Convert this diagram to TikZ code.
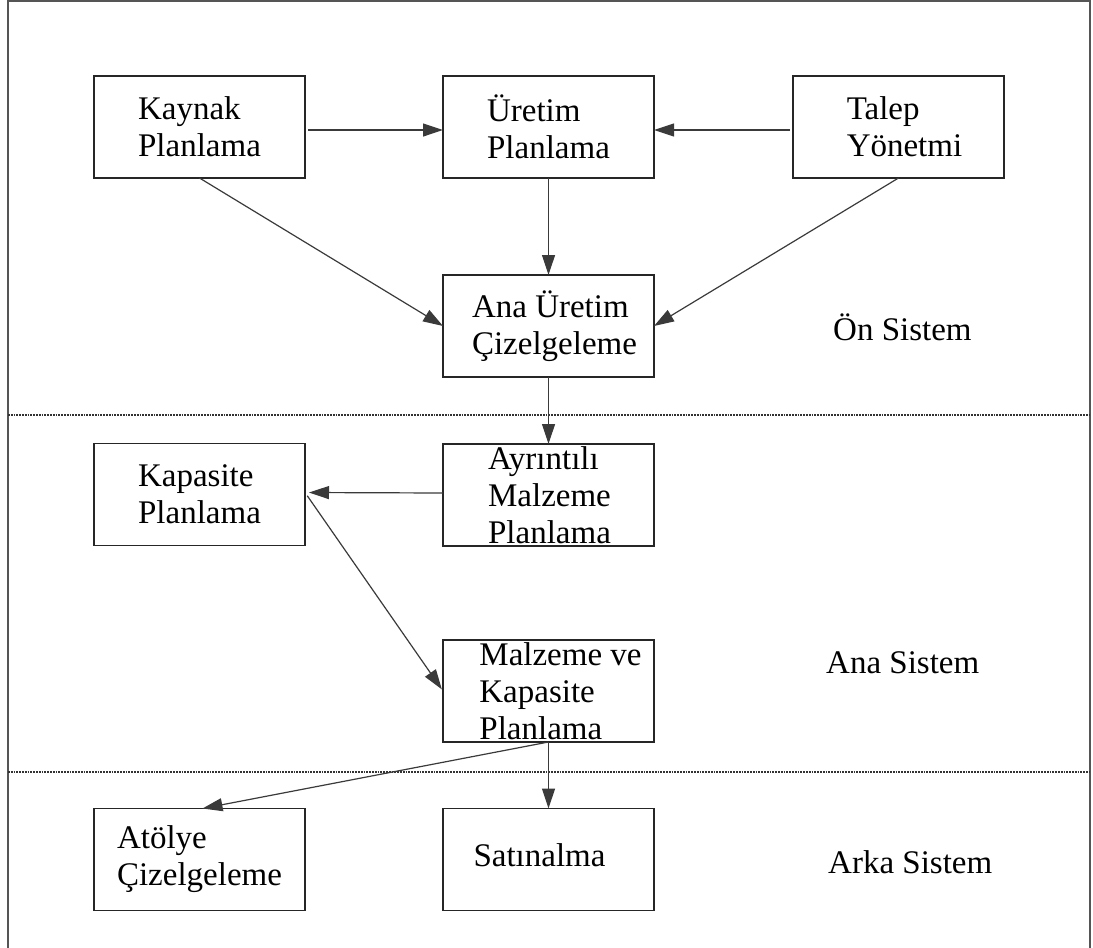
\documentclass[tikz,border=0pt]{standalone}
\usepackage{fontspec}
\setmainfont{Liberation Serif}
\usetikzlibrary{arrows.meta}

\definecolor{frameg}{HTML}{555555}
\definecolor{lineg}{HTML}{3A3A3A}
\definecolor{sepg}{HTML}{333333}

\begin{document}
\begin{tikzpicture}[x=1pt,y=-1pt,
  box/.style={draw=black!85,line width=1.3pt,minimum width=211pt,minimum height=102pt,
    inner sep=0pt,outer sep=0pt,align=left,
    font=\fontsize{33}{37}\selectfont},
  lbl/.style={inner sep=0pt,anchor=base west,font=\fontsize{33}{37}\selectfont},
  flow/.style={draw=lineg,line width=1.2pt,-{Triangle[length=20pt,width=13pt]}},
  sep/.style={draw=sepg,line width=1.8pt,dash pattern=on 1.8pt off 1pt}]

\useasboundingbox (0,0) rectangle (1093,948);

% outer frame (open at the bottom)
\draw[frameg,line width=1.5pt] (8,948) -- (8,1) -- (1090,1) -- (1090,948);

% boundaries between the three layers
\draw[sep] (8,415) -- (1090,415);
\draw[sep] (8,772) -- (1090,772);

% front system
\node[box] (kaynak) at (199.5,127) {Kaynak\\Planlama};
\node[box] (uretim) at (548.5,127) {Üretim\\Planlama};
\node[box] (talep)  at (898.5,127) {\hspace*{12pt}Talep\\\hspace*{12pt}Yönetmi};
\node[box] (ana)    at (548.5,326) {\hspace*{12pt}Ana Üretim\\\hspace*{12pt}Çizelgeleme};

% main system
\node[box] (kapasite)  at (199.5,494.5) {Kapasite\\Planlama};
\node[box] (ayrintili) at (548.5,495)   {\hspace*{2pt}Ayrıntılı\\\hspace*{2pt}Malzeme\\\hspace*{2pt}Planlama};
\node[box] (malzeme)   at (548.5,691)   {\hspace*{24pt}Malzeme ve\\\hspace*{24pt}Kapasite\\\hspace*{24pt}Planlama};

% back system
\node[box] (atolye) at (199.5,859.5) {Atölye\\Çizelgeleme};
\node[box] (satin)  at (548.5,859.5) {\raisebox{9pt}{Satınalma}\hspace*{18pt}};

% layer names
\node[lbl] (on)   at (833,340) {Ön Sistem};
\node[lbl] (anas) at (826,673) {Ana Sistem};
\node[lbl] (arka) at (828,873) {Arka Sistem};

% connectors
\draw[flow,shorten <=3pt] ([yshift=-3pt]kaynak.east) -- ([yshift=-3pt]uretim.west);
\draw[flow,shorten <=3pt] ([yshift=-3pt]talep.west) -- ([yshift=-3pt]uretim.east);
\draw[flow] (uretim.south) -- (ana.north);
\draw[flow] (kaynak.south) -- (ana.west);
\draw[flow] (talep.south) -- (ana.east);
\draw[flow] (ana.south) -- (ayrintili.north);
\draw[flow,shorten >=4pt] ([yshift=2pt]ayrintili.west) -- ([yshift=2pt]kapasite.east);
\draw[flow,shorten <=4pt,shorten >=2pt] ([yshift=2pt]kapasite.east) -- (malzeme.west);
\draw[flow] (malzeme.south) -- (satin.north);
\draw[flow] (malzeme.south) -- ([xshift=3pt]atolye.north);

\end{tikzpicture}
\end{document}
